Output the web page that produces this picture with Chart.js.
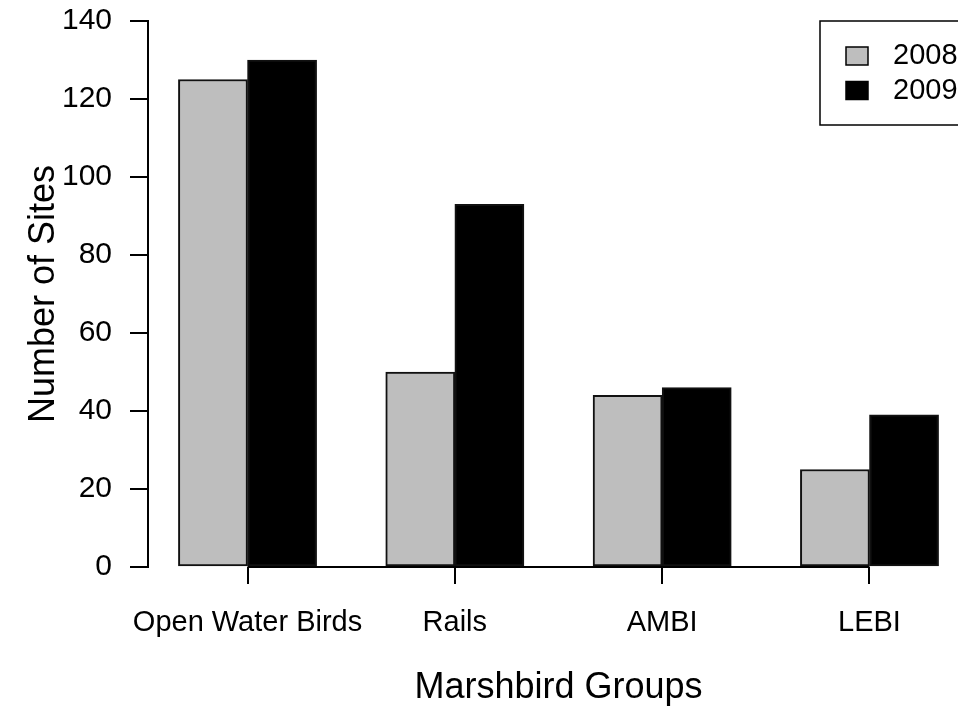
<!DOCTYPE html>
<html><head><meta charset="utf-8">
<script src="https://cdn.jsdelivr.net/npm/chart.js@4"></script>
<style>
html,body{margin:0;padding:0;background:#fff;overflow:hidden;width:958px;height:708px}
#wrap{position:absolute;left:0;top:0;width:1000px;height:708px}
canvas{display:block}
</style>
</head><body><div id="wrap"><canvas id="c" width="1000" height="708"></canvas></div>
<script>
const categories = ['Open Water Birds', 'Rails', 'AMBI', 'LEBI'];
const seriesNames = ['2008', '2009'];
const values2008 = [125, 50, 44, 25];
const values2009 = [130, 93, 46, 39];
const seriesColors = ['#bebebe', '#000000'];
const yTicks = [0, 20, 40, 60, 80, 100, 120, 140];
const xAxisTitle = 'Marshbird Groups';
const yAxisTitle = 'Number of Sites';

// barplot-style layout: bars of width 1, groups separated by 1 unit
const groupCenter = i => 2 + 3 * i;
const xTicks = categories.map((_, i) => groupCenter(i));
const toPoints = (vals, k) => vals.map((v, i) => ({ x: groupCenter(i) - 0.5 + k, y: v }));

const FONT = "'Liberation Sans', Arial, Helvetica, sans-serif";
Chart.defaults.font.family = FONT;
Chart.defaults.color = '#000';

const axisLinePlugin = {
  id: 'axisLine',
  afterDatasetsDraw(chart) {
    const { ctx, scales: { x, y } } = chart;
    const py = Math.round(y.getPixelForValue(0));
    ctx.save();
    ctx.strokeStyle = '#000';
    ctx.lineWidth = 2;
    ctx.beginPath();
    ctx.moveTo(x.getPixelForValue(xTicks[0]), py);
    ctx.lineTo(x.getPixelForValue(xTicks[xTicks.length - 1]), py);
    ctx.stroke();
    ctx.restore();
  }
};

const legendBoxPlugin = {
  id: 'legendBox',
  afterDraw(chart) {
    const { ctx, chartArea } = chart;
    const w = 149, h = 104;
    const left = chartArea.right - w, top = chartArea.top;
    ctx.save();
    ctx.fillStyle = '#fff';
    ctx.fillRect(left, top, w, h);
    ctx.strokeStyle = '#000';
    ctx.lineWidth = 1.5;
    ctx.strokeRect(left, top, w, h);
    ctx.font = '29px ' + FONT;
    ctx.textBaseline = 'middle';
    ctx.textAlign = 'left';
    chart.data.datasets.forEach((ds, i) => {
      const cy = top + 35 + i * 34.5;
      ctx.fillStyle = ds.backgroundColor;
      ctx.fillRect(left + 26, cy - 9, 22, 18);
      ctx.lineWidth = 1.5;
      ctx.strokeStyle = '#000';
      ctx.strokeRect(left + 26, cy - 9, 22, 18);
      ctx.fillStyle = '#000';
      ctx.fillText(ds.label, left + 73, cy);
    });
    ctx.restore();
  }
};

new Chart(document.getElementById('c'), {
  type: 'bar',
  data: {
    datasets: [
      { label: seriesNames[0], data: toPoints(values2008, 0), backgroundColor: seriesColors[0] },
      { label: seriesNames[1], data: toPoints(values2009, 1), backgroundColor: seriesColors[1] }
    ]
  },
  options: {
    responsive: false,
    animation: false,
    grouped: false,
    barPercentage: 1,
    categoryPercentage: 1,
    borderColor: '#111',
    borderWidth: 2,
    borderSkipped: false,
    layout: { padding: { top: 21, right: 31, bottom: 0, left: 0 } },
    plugins: { legend: { display: false }, tooltip: { enabled: false } },
    scales: {
      x: {
        type: 'linear',
        position: 'bottom',
        min: 0.56,
        max: 12.44,
        offset: false,
        border: { display: false },
        grid: { offset: false, drawOnChartArea: false, drawTicks: true, tickLength: 17, color: '#000', lineWidth: 2 },
        ticks: {
          autoSkip: false, maxRotation: 0, padding: 22, color: '#000',
          font: { size: 29 },
          callback: v => categories[xTicks.indexOf(v)]
        },
        afterBuildTicks: s => { s.ticks = xTicks.map(v => ({ value: v })); },
        afterFit: s => { s.height = 141; s.paddingLeft = 0; s.paddingRight = 0; },
        title: { display: true, text: xAxisTitle, color: '#000', font: { size: 36, lineHeight: 1.1 }, padding: { top: 0, bottom: 0 } }
      },
      y: {
        type: 'linear',
        min: 0,
        max: 140,
        border: { display: true, color: '#000', width: 2 },
        grid: { drawOnChartArea: false, drawTicks: true, tickLength: 18, color: '#000', lineWidth: 2 },
        ticks: { padding: 18, color: '#000', font: { size: 30 } },
        afterBuildTicks: s => { s.ticks = yTicks.map(v => ({ value: v })); },
        afterFit: s => { s.width = 148; s.paddingTop = 0; s.paddingBottom = 0; },
        title: { display: true, text: yAxisTitle, color: '#000', font: { size: 36, lineHeight: 1.2 }, padding: { top: 22, bottom: 0 } }
      }
    }
  },
  plugins: [axisLinePlugin, legendBoxPlugin]
});
</script>
</body></html>
